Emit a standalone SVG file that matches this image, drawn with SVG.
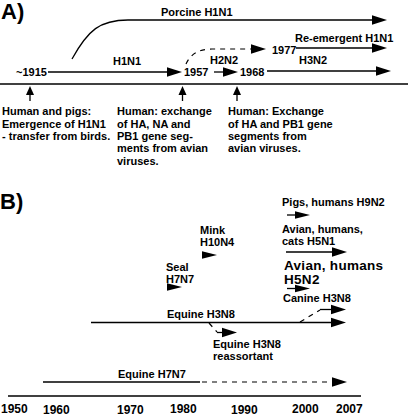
<svg xmlns="http://www.w3.org/2000/svg" xmlns:xlink="http://www.w3.org/1999/xlink" width="408" height="416" viewBox="0 0 408 416">
<style>
text{font-family:"Liberation Sans",Arial,sans-serif;font-weight:bold;font-size:11px;fill:#000}
.big{font-size:22px}
.yr{font-size:12px}
.h5n2{font-size:13.5px;letter-spacing:0.3px}
.ln{stroke:#000;stroke-width:1.3;fill:none}
.ax{stroke:#000;stroke-width:1.6;fill:none}
.ds{stroke:#000;stroke-width:1.2;fill:none;stroke-dasharray:5,5}
</style>
<defs>
<path id="ah" d="M0,0 L-15,-4.8 L-15,4.8 Z" fill="#000"/>
<path id="ahs" d="M0,0 L-15,-3.8 L-15,3.8 Z" fill="#000"/>
<path id="up" d="M0,0 L-4,9 L4,9 Z" fill="#000"/>
</defs>
<rect width="408" height="416" fill="#fff"/>

<!-- Panel A -->
<g id="panelA-label"><text class="big" x="1" y="19">A)</text></g>
<g id="porcine"><text x="161" y="16">Porcine H1N1</text></g>
<g id="y1915"><text x="16" y="76">~1915</text></g>
<g id="h1n1"><text x="113" y="65">H1N1</text></g>
<g id="y1957"><text x="184" y="76">1957</text></g>
<g id="h2n2"><text x="210" y="64">H2N2</text></g>
<g id="y1968"><text x="240" y="76">1968</text></g>
<g id="h3n2"><text x="299" y="64">H3N2</text></g>
<g id="y1977"><text x="272" y="54">1977</text></g>
<g id="reemergent"><text x="295" y="42">Re-emergent H1N1</text></g>
<g id="note1">
<text x="2" y="115">Human and pigs:</text>
<text x="2" y="127.5">Emergence of H1N1</text>
<text x="2" y="140">- transfer from birds.</text>
</g>
<g id="note2">
<text x="117" y="115">Human: exchange</text>
<text x="117" y="127.5">of HA, NA and</text>
<text x="117" y="140">PB1 gene seg-</text>
<text x="117" y="152">ments from avian</text>
<text x="117" y="164.5">viruses.</text>
</g>
<g id="note3">
<text x="228" y="115">Human: Exchange</text>
<text x="228" y="127.5">of HA and PB1 gene</text>
<text x="228" y="140">segments from</text>
<text x="228" y="152">avian viruses.</text>
</g>

<!-- Panel B -->
<g id="panelB-label"><text class="big" x="0" y="209">B)</text></g>
<g id="h9n2"><text x="282" y="206">Pigs, humans H9N2</text></g>
<g id="h5n1"><text x="282" y="233">Avian, humans,</text><text x="282" y="245">cats H5N1</text></g>
<g id="h5n2"><text class="h5n2" x="284" y="269.5">Avian, humans</text><text class="h5n2" x="284" y="284">H5N2</text></g>
<g id="canine"><text x="283" y="302">Canine H3N8</text></g>
<g id="mink"><text x="200" y="234">Mink</text><text x="200" y="246">H10N4</text></g>
<g id="seal"><text x="166" y="271">Seal</text><text x="166" y="282.5">H7N7</text></g>
<g id="equineH3N8"><text x="167" y="318">Equine H3N8</text></g>
<g id="reassortant"><text x="213" y="348">Equine H3N8</text><text x="213" y="360">reassortant</text></g>
<g id="equineH7N7"><text x="118" y="378">Equine H7N7</text></g>
<g id="years">
<text class="yr" x="1" y="412.5">1950</text>
<text class="yr" x="43" y="413.5">1960</text>
<text class="yr" x="117" y="414">1970</text>
<text class="yr" x="170" y="412.5">1980</text>
<text class="yr" x="231" y="414">1990</text>
<text class="yr" x="292" y="412.5">2000</text>
<text class="yr" x="336" y="412.5">2007</text>
</g>

<g id="connectors">
<!-- Panel A -->
<path class="ln" d="M72,59 C88,30 100,20 128,20 L373,20"/>
<use xlink:href="#ah" x="387" y="20"/>
<line class="ln" x1="48" y1="72" x2="168" y2="72"/>
<use xlink:href="#ah" x="182" y="72"/>
<line class="ln" x1="214" y1="72" x2="224" y2="72"/>
<use xlink:href="#ah" x="238" y="72"/>
<line class="ln" x1="267" y1="71" x2="377" y2="71"/>
<use xlink:href="#ah" x="391" y="71"/>
<path class="ds" d="M186,64 C190,55 198,49 212,49 L251,49"/>
<use xlink:href="#ah" x="266" y="49"/>
<line class="ln" x1="296" y1="48" x2="373" y2="48"/>
<use xlink:href="#ah" x="387" y="48"/>
<line class="ax" x1="0" y1="84" x2="408" y2="84"/>
<line class="ln" x1="30" y1="94" x2="30" y2="101"/><use xlink:href="#up" x="30" y="86"/>
<line class="ln" x1="182.5" y1="94" x2="182.5" y2="101"/><use xlink:href="#up" x="182.5" y="86"/>
<line class="ln" x1="237" y1="94" x2="237" y2="101"/><use xlink:href="#up" x="237" y="86"/>
<!-- Panel B -->
<use xlink:href="#ahs" x="182" y="287"/>
<use xlink:href="#ahs" x="217" y="255"/>
<line class="ln" x1="287" y1="215" x2="295" y2="215"/>
<use xlink:href="#ahs" x="310" y="215"/>
<line class="ln" x1="286" y1="252" x2="333" y2="252"/>
<use xlink:href="#ah" x="347" y="252"/>
<line class="ln" x1="287" y1="288.5" x2="295" y2="288.5"/>
<use xlink:href="#ahs" x="310" y="288.5"/>
<path class="ds" d="M300,322 L320,310" stroke-dasharray="4,4"/>
<line class="ln" x1="320" y1="309.5" x2="332" y2="309.5"/>
<use xlink:href="#ah" x="346" y="309.5"/>
<line class="ln" x1="91" y1="322.5" x2="332" y2="322.5"/>
<use xlink:href="#ah" x="346" y="322.5"/>
<path class="ds" d="M209,323 L217,332" stroke-dasharray="3,3"/>
<line class="ln" x1="217" y1="332.5" x2="223" y2="332.5"/>
<use xlink:href="#ah" x="237" y="332.5"/>
<line class="ln" x1="43" y1="382" x2="200" y2="382"/>
<line class="ds" x1="202" y1="382" x2="332" y2="382"/>
<use xlink:href="#ah" x="347" y="382"/>
<line class="ax" x1="8" y1="396" x2="361" y2="396"/>
</g>
</svg>
